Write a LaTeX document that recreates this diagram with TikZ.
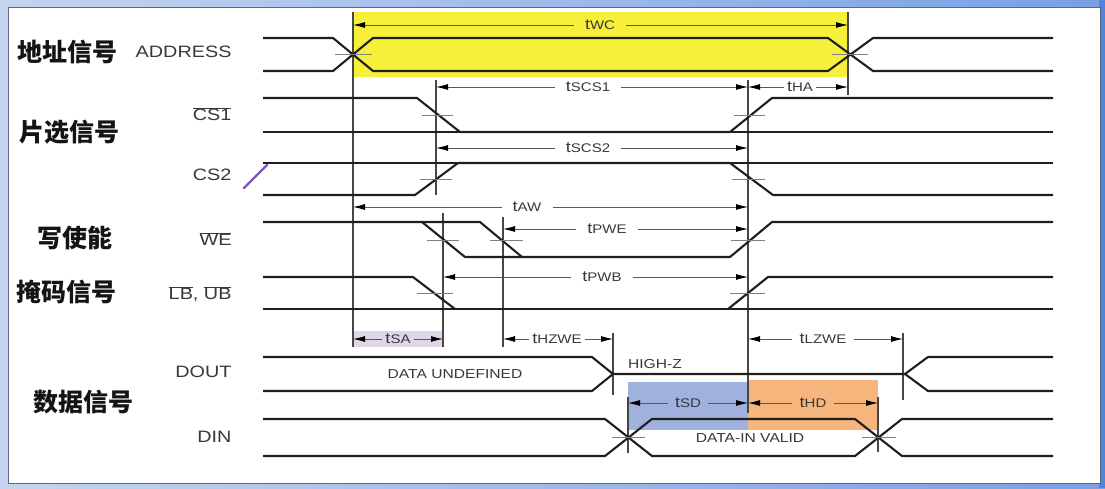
\documentclass[tikz,border=0pt]{standalone}
\usepackage{fontspec}
\setsansfont{Liberation Sans}
\newfontfamily\cjk{Noto Sans CJK SC}
\usepackage{tikz}
\usetikzlibrary{arrows.meta}
\usetikzlibrary{calc}
\definecolor{hlyellow}{RGB}{247,240,58}
\definecolor{hlblue}{RGB}{160,177,222}
\definecolor{hlorange}{RGB}{246,181,124}
\definecolor{hllilac}{RGB}{224,214,232}
\definecolor{penpurple}{RGB}{128,86,180}
\definecolor{skyleft}{RGB}{196,212,240}
\definecolor{skyright}{RGB}{120,160,228}
\definecolor{edgeblue}{RGB}{80,132,218}
\definecolor{panelline}{RGB}{90,104,128}
\newcommand{\wide}[1]{\scalebox{1.2}[1]{#1}}
\newcommand{\tm}[1]{\wide{t{\fontsize{12.5}{13}\selectfont #1}}}
\newcommand{\ovl}[1]{$\overline{\mbox{#1}}$}

\begin{document}
\begin{tikzpicture}[x=1pt,y=-1pt,
	sig/.style={line width=2.1pt,black!88,line join=round},
	ref/.style={line width=1.1pt,black!72},
	tick/.style={line width=0.9pt,black!50},
	dim/.style={line width=0.8pt,black!65,-{Latex[length=12pt,width=6pt,color=black]}},
	tl/.style={font=\sffamily\fontsize{15}{15}\selectfont,text=black!78,inner xsep=3pt,inner ysep=0pt},
	tlm/.style={tl,inner xsep=7pt},
	tlw/.style={tl,inner xsep=11pt},
	signame/.style={font=\sffamily\fontsize{16.5}{17}\selectfont,text=black!78,anchor=east},
	cn/.style={font=\cjk\bfseries\fontsize{25}{25}\selectfont,text=black!92,anchor=west},
	data/.style={font=\sffamily\fontsize{13}{13}\selectfont,text=black!78}]
		\useasboundingbox (0,0) rectangle (1105,488);
		%screen frame
		\shade[left color=skyleft,right color=skyright] (0,0) rectangle (1105,488);
		\fill[edgeblue] (1099,0) rectangle (1105,488);
		\draw[fill=white,draw=panelline,line width=1pt] (8,7) rectangle (1100,483);
		%highlighted windows
		\fill[hlyellow] (353,12) rectangle (848,77);
		\fill[hllilac] (353,331) rectangle (443,347);
		\fill[hlblue] (628,382) rectangle (748,430);
		\fill[hlorange] (748,380) rectangle (878,430);
		%time marks
		\coordinate (vA) at (353,0);
		\coordinate (vC) at (436,0);
		\coordinate (vB) at (443,0);
		\coordinate (vW) at (503,0);
		\coordinate (vZ) at (613,0);
		\coordinate (vS) at (628,0);
		\coordinate (vE) at (748,0);
		\coordinate (vH) at (848,0);
		\coordinate (vD) at (878,0);
		\coordinate (vL) at (903,0);
		\draw[ref] (353,12)--(353,347);
		\draw[ref] (848,12)--(848,95);
		\draw[ref] (436,80)--(436,195);
		\draw[ref] (443,213)--(443,347);
		\draw[ref] (503,217)--(503,347);
		\draw[ref] (748,80)--(748,413);
		\draw[ref] (613,333)--(613,395);
		\draw[ref] (903,333)--(903,400);
		\draw[ref] (628,397)--(628,453);
		\draw[ref] (878,397)--(878,452);
		%left labels
		\node[cn] (cAddr) at (14,52) {地址信号};
		\node[cn] (cCs) at (16,132) {片选信号};
		\node[cn] (cWe) at (34,238) {写使能};
		\node[cn] (cMask) at (13,292) {掩码信号};
		\node[cn] (cData) at (30,402) {数据信号};
		\node[signame] (nAddr) at (235,52) {\wide{ADDRESS}};
		\node[signame] (nCsa) at (235,114) {\wide{\ovl{CS1}}};
		\node[signame] (nCsb) at (235,175) {\wide{CS2}};
		\node[signame] (nWe) at (235,239) {\wide{\ovl{WE}}};
		\node[signame] (nMask) at (235,294) {\wide{\ovl{LB}, \ovl{UB}}};
		\node[signame] (nDout) at (235,372) {\wide{DOUT}};
		\node[signame] (nDin) at (235,437) {\wide{DIN}};
		\draw[penpurple,line width=2.4pt,line cap=round] (244,188)--(267,165);
		%address
		\draw[sig] (263,38)--(333,38)--(373,71)--(828,71)--(873,38)--(1053,38);
		\draw[sig] (263,71)--(333,71)--(373,38)--(828,38)--(873,71)--(1053,71);
		\draw[tick] (335,54.5)--(372,54.5);
		\draw[tick] (832,54.5)--(868,54.5);
		%chip select
		\draw[sig] (263,98)--(417,98)--(460,132)--(730,132)--(772,98)--(1053,98);
		\draw[sig] (263,132)--(1053,132);
		\draw[tick] (422,115)--(453,115);
		\draw[tick] (734,115)--(765,115);
		\draw[sig] (263,195)--(415,195)--(458,163)--(730,163)--(773,195)--(1053,195);
		\draw[sig] (263,163)--(1053,163);
		\draw[tick] (420,179)--(452,179);
		\draw[tick] (732,179)--(765,179);
		%write enable
		\draw[sig] (263,222)--(480,222)--(522,257)--(730,257)--(772,222)--(1053,222);
		\draw[sig] (422,222)--(465,257)--(522,257);
		\draw[tick] (427,240)--(459,240);
		\draw[tick] (490,240)--(523,240);
		\draw[tick] (731,240)--(765,240);
		%byte mask
		\draw[sig] (263,277)--(413,277)--(455,309);
		\draw[sig] (263,309)--(1053,309);
		\draw[sig] (728,309)--(768,277)--(1053,277);
		\draw[tick] (417,293)--(453,293);
		\draw[tick] (730,293)--(765,293);
		%data out
		\draw[sig] (263,357)--(592,357)--(613,374)--(905,374)--(928,357)--(1053,357);
		\draw[sig] (263,391)--(592,391)--(613,374);
		\draw[sig] (905,374)--(928,391)--(1053,391);
		\node[data] (tUndef) at (455,374) {\wide{DATA UNDEFINED}};
		\node[data] (tHighZ) at (655,364) {\wide{HIGH-Z}};
		%data in
		\draw[sig] (263,419)--(605,419)--(652,456)--(855,456)--(902,419)--(1053,419);
		\draw[sig] (263,456)--(605,456)--(652,419)--(855,419)--(902,456)--(1053,456);
		\draw[tick] (612,437)--(645,437);
		\draw[tick] (862,437)--(896,437);
		\node[data] (tValid) at (750,438) {\wide{DATA-IN VALID}};
		%timing parameters
		\node[tlw] (lWC) at (600,25) {\tm{WC}};
		\draw[dim] (lWC)--(lWC -| vA);
		\draw[dim] (lWC)--(lWC -| vH);
		\node[tlw] (lSCSa) at (588,87) {\tm{SCS1}};
		\draw[dim] (lSCSa)--(lSCSa -| vC);
		\draw[dim] (lSCSa)--(lSCSa -| vE);
		\node[tl] (lHA) at (800,87) {\tm{HA}};
		\draw[dim] (lHA)--(lHA -| vE);
		\draw[dim] (lHA)--(lHA -| vH);
		\node[tlw] (lSCSb) at (588,148) {\tm{SCS2}};
		\draw[dim] (lSCSb)--(lSCSb -| vC);
		\draw[dim] (lSCSb)--(lSCSb -| vE);
		\node[tlw] (lAW) at (527,207) {\tm{AW}};
		\draw[dim] (lAW)--(lAW -| vA);
		\draw[dim] (lAW)--(lAW -| vE);
		\node[tlw] (lPWE) at (607,229) {\tm{PWE}};
		\draw[dim] (lPWE)--(lPWE -| vW);
		\draw[dim] (lPWE)--(lPWE -| vE);
		\node[tlw] (lPWB) at (602,277) {\tm{PWB}};
		\draw[dim] (lPWB)--(lPWB -| vB);
		\draw[dim] (lPWB)--(lPWB -| vE);
		\node[tl] (lSA) at (398,339) {\tm{SA}};
		\draw[dim] (lSA)--(lSA -| vA);
		\draw[dim] (lSA)--(lSA -| vB);
		\node[tl] (lHZWE) at (557,339) {\tm{HZWE}};
		\draw[dim] (lHZWE)--(lHZWE -| vW);
		\draw[dim] (lHZWE)--(lHZWE -| vZ);
		\node[tlm] (lLZWE) at (823,339) {\tm{LZWE}};
		\draw[dim] (lLZWE)--(lLZWE -| vE);
		\draw[dim] (lLZWE)--(lLZWE -| vL);
		\node[tlm] (lSD) at (688,403) {\tm{SD}};
		\draw[dim] (lSD)--(lSD -| vS);
		\draw[dim] (lSD)--(lSD -| vE);
		\node[tlm] (lHD) at (813,403) {\tm{HD}};
		\draw[dim] (lHD)--(lHD -| vE);
		\draw[dim] (lHD)--(lHD -| vD);
	\end{tikzpicture}
\end{document}
